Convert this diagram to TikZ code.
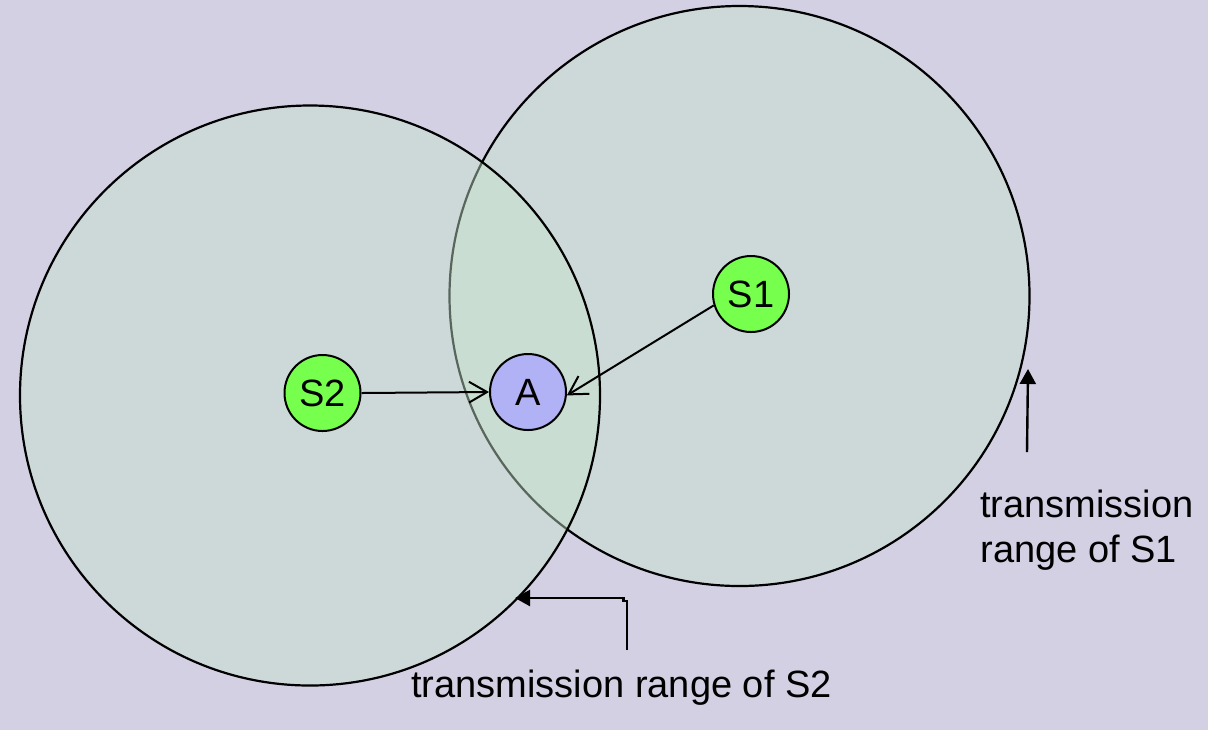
\documentclass[tikz,border=0pt]{standalone}
\usepackage{fontspec}
\setmainfont{Liberation Sans}
\usetikzlibrary{arrows.meta}
\definecolor{bgcol}{RGB}{210,208,226}
\definecolor{rangecol}{RGB}{199,228,206}
\definecolor{stcol}{RGB}{118,255,76}
\definecolor{tgcol}{RGB}{177,177,245}
\tikzstyle{coverage} = [draw=black, line width=1.1pt, fill=rangecol, fill opacity=0.45]
\tikzstyle{station} = [circle, minimum size=38pt, inner sep=0pt, draw=black, line width=1pt, fill=stcol, font=\fontsize{19}{22.5}\selectfont]
\tikzstyle{target} = [station, fill=tgcol]
\tikzstyle{link} = [line width=1pt, -{Straight Barb[length=9pt,width=10.4pt]}]
\tikzstyle{pointer} = [line width=1.2pt, -{Triangle[length=7.5pt,width=8pt]}]
\tikzstyle{rangetext} = [inner sep=0pt, align=left, font=\fontsize{19}{22.5}\selectfont]
\begin{document}
\begin{tikzpicture}[x=0.5pt, y=-0.5pt]
\fill[bgcol] (0,0) rectangle (1208,730);
\useasboundingbox (0,0) rectangle (1208,730);
% ranges
\coordinate (c1) at (739.5,296);
\coordinate (c2) at (310,395.5);
\draw[coverage] (c1) circle[radius=290];
\draw[coverage] (c2) circle[radius=290];
% stations
\node (S1) [station] at (751,294) {S1};
\node (S2) [station] at (322.5,393) {S2};
\node (A) [target] at (528,392) {A};
\draw[link] (S2.east) -- (A.west);
\draw[link] (S1.197) -- (A.355);
% range labels
\node (t1) [rangetext, anchor=base west] at (980,562) {transmission\\range of S1};
\node (t2) [rangetext, anchor=base west] at (411,697) {transmission range of S2};
\coordinate (p1) at (1027,452);
\coordinate (e1) at (1028,369);
\coordinate (p2) at (627,650);
\coordinate (e2) at (515,598);
\draw[pointer] (p1) -- (e1);
\draw[pointer] (p2) -- ++(0,-49) -- ++(-3.5,0) |- (e2);
\end{tikzpicture}
\end{document}
